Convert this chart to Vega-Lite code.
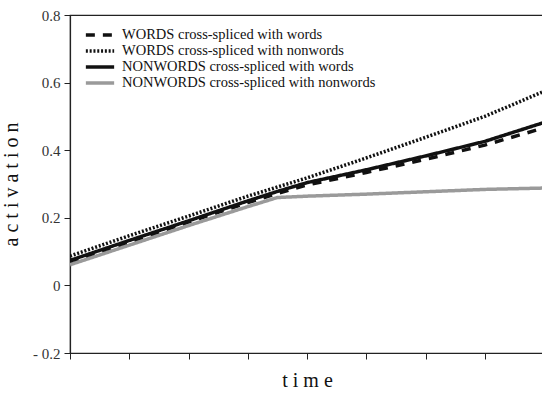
{
  "$schema": "https://vega.github.io/schema/vega-lite/v6.json",
  "width": 474,
  "height": 338,
  "autosize": "none",
  "padding": {"left": 70, "top": 15, "right": 0, "bottom": 41},
  "background": "white",
  "config": {
    "view": {"stroke": "#222", "strokeWidth": 1.2},
    "font": "Liberation Serif"
  },
  "data": {
    "values": [
      {"series": "WORDS cross-spliced with words", "t": 0, "a": 0.068},
      {"series": "WORDS cross-spliced with words", "t": 1, "a": 0.128},
      {"series": "WORDS cross-spliced with words", "t": 2, "a": 0.187},
      {"series": "WORDS cross-spliced with words", "t": 3, "a": 0.245},
      {"series": "WORDS cross-spliced with words", "t": 3.5, "a": 0.272},
      {"series": "WORDS cross-spliced with words", "t": 4, "a": 0.297},
      {"series": "WORDS cross-spliced with words", "t": 5, "a": 0.334},
      {"series": "WORDS cross-spliced with words", "t": 6, "a": 0.373},
      {"series": "WORDS cross-spliced with words", "t": 7, "a": 0.415},
      {"series": "WORDS cross-spliced with words", "t": 8, "a": 0.466},
      {"series": "WORDS cross-spliced with nonwords", "t": 0, "a": 0.087},
      {"series": "WORDS cross-spliced with nonwords", "t": 1, "a": 0.147},
      {"series": "WORDS cross-spliced with nonwords", "t": 2, "a": 0.205},
      {"series": "WORDS cross-spliced with nonwords", "t": 3, "a": 0.264},
      {"series": "WORDS cross-spliced with nonwords", "t": 4, "a": 0.318},
      {"series": "WORDS cross-spliced with nonwords", "t": 5, "a": 0.377},
      {"series": "WORDS cross-spliced with nonwords", "t": 6, "a": 0.438},
      {"series": "WORDS cross-spliced with nonwords", "t": 7, "a": 0.500},
      {"series": "WORDS cross-spliced with nonwords", "t": 8, "a": 0.574},
      {"series": "NONWORDS cross-spliced with words", "t": 0, "a": 0.074},
      {"series": "NONWORDS cross-spliced with words", "t": 1, "a": 0.133},
      {"series": "NONWORDS cross-spliced with words", "t": 2, "a": 0.191},
      {"series": "NONWORDS cross-spliced with words", "t": 3, "a": 0.250},
      {"series": "NONWORDS cross-spliced with words", "t": 3.5, "a": 0.278},
      {"series": "NONWORDS cross-spliced with words", "t": 4, "a": 0.304},
      {"series": "NONWORDS cross-spliced with words", "t": 5, "a": 0.342},
      {"series": "NONWORDS cross-spliced with words", "t": 6, "a": 0.383},
      {"series": "NONWORDS cross-spliced with words", "t": 7, "a": 0.426},
      {"series": "NONWORDS cross-spliced with words", "t": 8, "a": 0.482},
      {"series": "NONWORDS cross-spliced with nonwords", "t": 0, "a": 0.061},
      {"series": "NONWORDS cross-spliced with nonwords", "t": 1, "a": 0.119},
      {"series": "NONWORDS cross-spliced with nonwords", "t": 2, "a": 0.177},
      {"series": "NONWORDS cross-spliced with nonwords", "t": 3, "a": 0.233},
      {"series": "NONWORDS cross-spliced with nonwords", "t": 3.5, "a": 0.260},
      {"series": "NONWORDS cross-spliced with nonwords", "t": 4, "a": 0.264},
      {"series": "NONWORDS cross-spliced with nonwords", "t": 5, "a": 0.270},
      {"series": "NONWORDS cross-spliced with nonwords", "t": 6, "a": 0.277},
      {"series": "NONWORDS cross-spliced with nonwords", "t": 7, "a": 0.284},
      {"series": "NONWORDS cross-spliced with nonwords", "t": 8, "a": 0.288}
    ]
  },
  "mark": {"type": "line", "strokeWidth": 3.5, "clip": true, "strokeCap": "butt"},
  "encoding": {
    "x": {
      "field": "t", "type": "quantitative",
      "scale": {"domain": [0, 8], "nice": false},
      "axis": {
        "values": [0, 1, 2, 3, 4, 5, 6, 7, 8],
        "labels": false, "grid": false,
        "domainColor": "#222", "tickColor": "#222", "tickSize": 6, "domainWidth": 1.2,
        "title": "t i m e", "titleFont": "Liberation Serif", "titleFontSize": 20,
        "titleFontWeight": "normal", "titleColor": "#111", "titlePadding": 11
      }
    },
    "y": {
      "field": "a", "type": "quantitative",
      "scale": {"domain": [-0.2, 0.8], "nice": false, "zero": false},
      "axis": {
        "values": [-0.2, 0, 0.2, 0.4, 0.6, 0.8],
        "grid": false,
        "labelExpr": "datum.value < 0 ? '- ' + format(-datum.value, '.1f') : (datum.value == 0 ? '0' : format(datum.value, '.1f'))",
        "labelFont": "Liberation Serif", "labelFontSize": 15, "labelColor": "#333", "labelPadding": 4,
        "domainColor": "#222", "tickColor": "#222", "tickSize": 6, "domainWidth": 1.2,
        "title": "a c t i v a t i o n", "titleFont": "Liberation Serif", "titleFontSize": 20,
        "titleFontWeight": "normal", "titleColor": "#111", "titlePadding": 11
      }
    },
    "color": {
      "field": "series", "type": "nominal",
      "scale": {
        "domain": ["WORDS cross-spliced with words", "WORDS cross-spliced with nonwords", "NONWORDS cross-spliced with words", "NONWORDS cross-spliced with nonwords"],
        "range": ["#111111", "#111111", "#111111", "#9a9a9a"]
      },
      "legend": {
        "orient": "none", "legendX": 14, "legendY": 12,
        "title": null, "padding": 0, "rowPadding": 0, "clipHeight": 16,
        "symbolType": "stroke", "symbolSize": 800, "symbolStrokeWidth": 3.5,
        "labelFont": "Liberation Serif", "labelFontSize": 14.5, "labelColor": "#111",
        "labelOffset": 6, "labelLimit": 400
      }
    },
    "strokeDash": {
      "field": "series", "type": "nominal",
      "scale": {
        "domain": ["WORDS cross-spliced with words", "WORDS cross-spliced with nonwords", "NONWORDS cross-spliced with words", "NONWORDS cross-spliced with nonwords"],
        "range": [[9, 8], [2, 1.8], [1, 0], [1, 0]]
      },
      "legend": null
    },
    "order": {"field": "t", "type": "quantitative"}
  }
}
